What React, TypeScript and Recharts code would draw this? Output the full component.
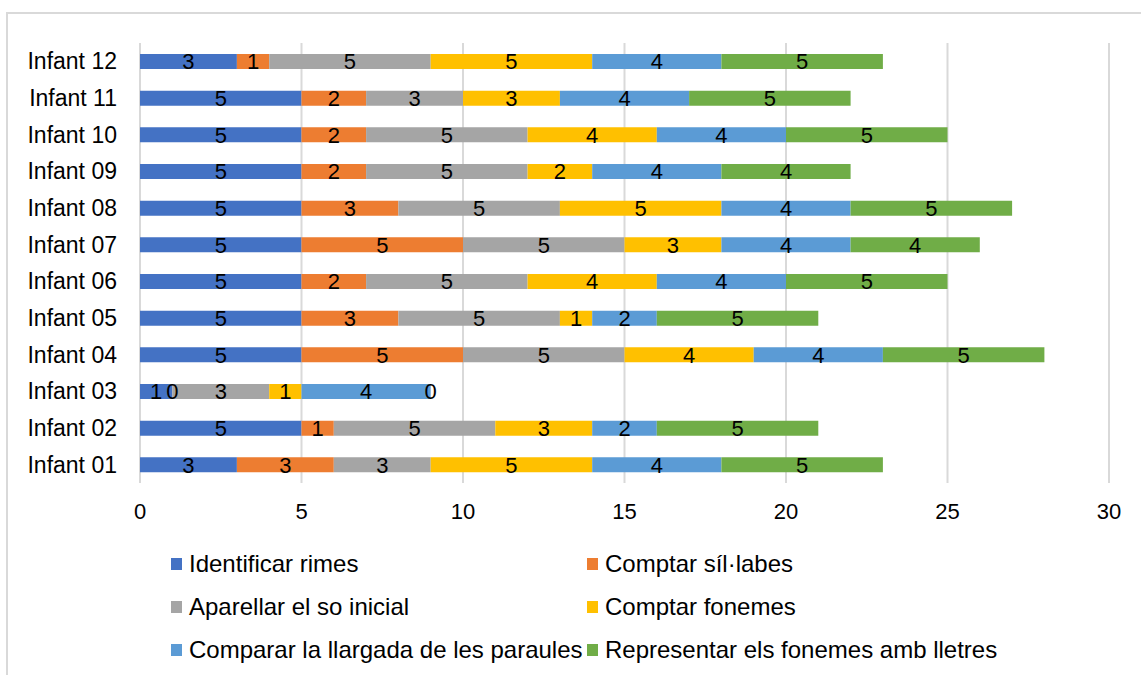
import React from "react";
import { ComposedChart, Bar, Scatter, XAxis, YAxis, CartesianGrid, LabelList } from "recharts";

const infants = [
  "Infant 01", "Infant 02", "Infant 03", "Infant 04", "Infant 05", "Infant 06",
  "Infant 07", "Infant 08", "Infant 09", "Infant 10", "Infant 11", "Infant 12",
];

const identificarRimes = [3, 5, 1, 5, 5, 5, 5, 5, 5, 5, 5, 3];
const comptarSillabes = [3, 1, 0, 5, 3, 2, 5, 3, 2, 2, 2, 1];
const aparellarSo = [3, 5, 3, 5, 5, 5, 5, 5, 5, 5, 3, 5];
const comptarFonemes = [5, 3, 1, 4, 1, 4, 3, 5, 2, 4, 3, 5];
const compararLlargada = [4, 2, 4, 4, 2, 4, 4, 4, 4, 4, 4, 4];
const representarFonemes = [5, 5, 0, 5, 5, 5, 4, 5, 4, 5, 5, 5];

const xTicks = [0, 5, 10, 15, 20, 25, 30];

const series = [
  { key: "rimes", name: "Identificar rimes", color: "#4472C4", values: identificarRimes },
  { key: "sillabes", name: "Comptar síl·labes", color: "#ED7D31", values: comptarSillabes },
  { key: "so", name: "Aparellar el so inicial", color: "#A5A5A5", values: aparellarSo },
  { key: "fonemes", name: "Comptar fonemes", color: "#FFC000", values: comptarFonemes },
  { key: "llargada", name: "Comparar la llargada de les paraules", color: "#5B9BD5", values: compararLlargada },
  { key: "representar", name: "Representar els fonemes amb lletres", color: "#70AD47", values: representarFonemes },
];

// Recharts no dibuixa els segments de valor 0, així que la seva etiqueta
// es posa amb un Scatter a la posició acumulada on hauria de ser
const data = infants.map((name, i) => {
  const row: Record<string, string | number | null> = { name };
  let acumulat = 0;
  series.forEach((s) => {
    const v = s.values[i];
    row[s.key] = v;
    row[s.key + "Zero"] = v === 0 ? acumulat : null;
    acumulat += v;
  });
  return row;
});

const FONT = "'Liberation Sans', Arial, sans-serif";

function EtiquetaValor(props: any) {
  const { x, y, width, height, value } = props;
  if (value === undefined || value === null) return null;
  return (
    <text
      x={Number(x) + Number(width) / 2}
      y={Number(y) + Number(height) / 2}
      dy="0.36em"
      textAnchor="middle"
      fill="#000"
      fontSize={22}
      fontFamily={FONT}
    >
      {value}
    </text>
  );
}

const etiquetaZero = (clau: string) => (props: any) => {
  const { cx, cy, payload } = props;
  const v = payload ? payload[clau] : null;
  if (v === null || v === undefined || cx === undefined || isNaN(cx)) return <g />;
  return (
    <text x={cx} y={cy} dy="0.36em" textAnchor="middle" fill="#000" fontSize={22} fontFamily={FONT}>
      0
    </text>
  );
};

function LegendBox() {
  return (
    <div
      style={{
        position: "absolute",
        left: 171,
        top: 550,
        display: "grid",
        gridTemplateColumns: "416px 420px",
        rowGap: 15,
        fontFamily: FONT,
        fontSize: 24,
        color: "#000",
      }}
    >
      {series.map((s) => (
        <div key={s.key} style={{ display: "flex", alignItems: "center", height: 28, whiteSpace: "nowrap" }}>
          <span style={{ display: "inline-block", width: 11, height: 12, background: s.color, marginRight: 7 }} />
          {s.name}
        </div>
      ))}
    </div>
  );
}

export default function App() {
  return (
    <div style={{ position: "absolute", left: 0, top: 0, width: 1141, height: 675, background: "#fff", overflow: "hidden" }}>
      <div
        style={{
          position: "absolute",
          left: 6,
          top: 12,
          width: 1160,
          height: 700,
          border: "2px solid #d9d9d9",
        }}
      />
      <ComposedChart
        width={1141}
        height={675}
        data={data}
        layout="vertical"
        barSize={15}
        margin={{ top: 43, right: 32, bottom: 162, left: 0 }}
        style={{ position: "absolute", left: 0, top: 0 }}
      >
        <CartesianGrid horizontal={false} stroke="#d9d9d9" strokeWidth={2} />
        <XAxis
          type="number"
          domain={[0, 30]}
          ticks={xTicks}
          axisLine={false}
          tickLine={false}
          tickMargin={14}
          tick={{ fill: "#000", fontSize: 22, fontFamily: FONT }}
          interval={0}
        />
        <YAxis
          type="category"
          dataKey="name"
          reversed
          width={140}
          axisLine={false}
          tickLine={false}
          tickMargin={17}
          tick={{ fill: "#000", fontSize: 23, fontFamily: FONT }}
          interval={0}
        />
        {series.map((s) => (
          <Bar key={s.key} dataKey={s.key} name={s.name} stackId="a" fill={s.color} isAnimationActive={false}>
            <LabelList dataKey={s.key} content={EtiquetaValor} />
          </Bar>
        ))}
        {series
          .filter((s) => s.values.includes(0))
          .map((s) => (
            <Scatter
              key={s.key + "Zero"}
              dataKey={s.key + "Zero"}
              shape={etiquetaZero(s.key + "Zero")}
              isAnimationActive={false}
            />
          ))}
      </ComposedChart>
      <LegendBox />
    </div>
  );
}
